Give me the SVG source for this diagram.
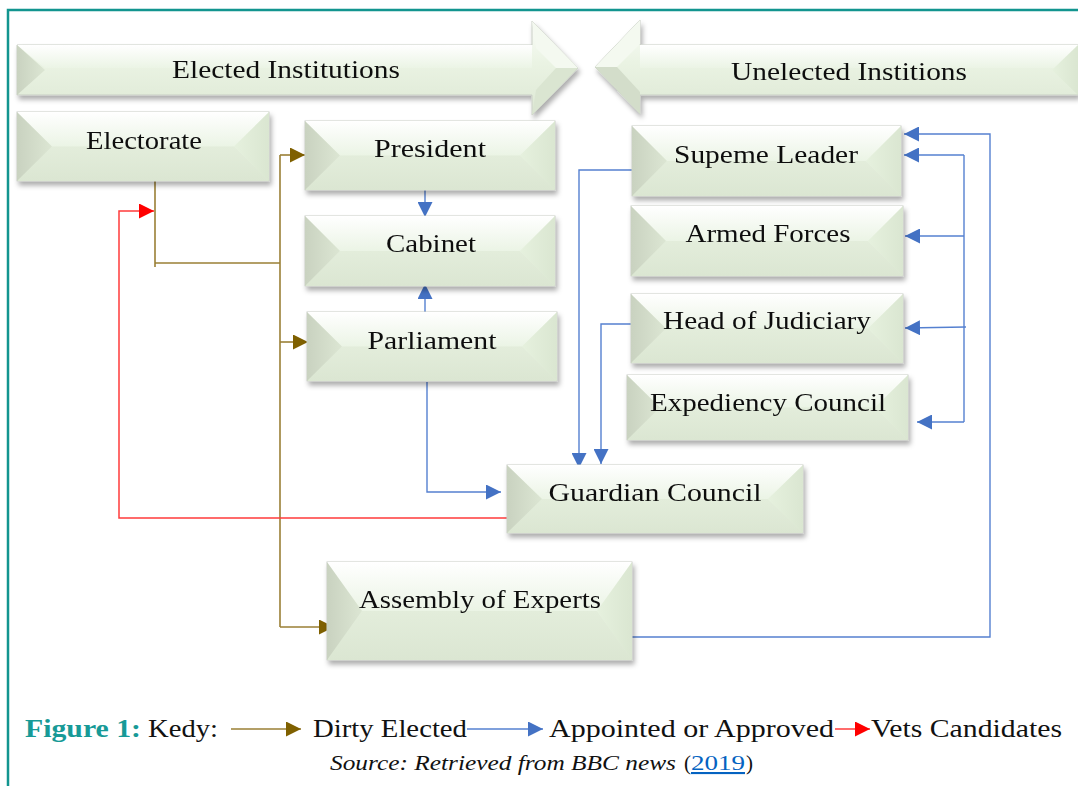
<svg xmlns="http://www.w3.org/2000/svg" width="1078" height="786" viewBox="0 0 1078 786">
  <style>
    .lbl { font-family: "Liberation Serif", "Times New Roman", serif; font-size: 26px; fill: #111; text-anchor: middle; }
    .leg { font-family: "Liberation Serif", "Times New Roman", serif; font-size: 25px; fill: #111; }
    .src { font-family: "Liberation Serif", "Times New Roman", serif; font-size: 21px; fill: #111; }
    .base { fill: url(#gBase); stroke: #c9cec5; stroke-width: 1; }
    .top { fill: url(#gTop); }
    .bot { fill: url(#gBot); }
    .lft { fill: url(#gLeft); }
    .rgt { fill: url(#gRight); }
    .blue { fill: none; stroke: #5580d0; stroke-width: 1.4; }
    .brown { fill: none; stroke: #9a7f35; stroke-width: 1.6; }
    .red { fill: none; stroke: #ff3b3b; stroke-width: 1.5; }
  </style>
  <defs>
    <linearGradient id="gBase" x1="0" y1="0" x2="0" y2="1">
      <stop offset="0" stop-color="#fbfdf9"/>
      <stop offset="0.45" stop-color="#eaf3e3"/>
      <stop offset="1" stop-color="#dde8d4"/>
    </linearGradient>
    <linearGradient id="gTop" x1="0" y1="0" x2="0" y2="1">
      <stop offset="0" stop-color="#ffffff"/>
      <stop offset="1" stop-color="#ebf4e5"/>
    </linearGradient>
    <linearGradient id="gBot" x1="0" y1="0" x2="0" y2="1">
      <stop offset="0" stop-color="#e3eddb"/>
      <stop offset="1" stop-color="#dbe6d2"/>
    </linearGradient>
    <linearGradient id="gLeft" x1="0" y1="0" x2="1" y2="0">
      <stop offset="0" stop-color="#c9d2c0"/>
      <stop offset="1" stop-color="#dce6d3"/>
    </linearGradient>
    <linearGradient id="gRight" x1="0" y1="0" x2="1" y2="0">
      <stop offset="0" stop-color="#e6f1de"/>
      <stop offset="1" stop-color="#dae6d1"/>
    </linearGradient>
    <filter id="shadow" x="-10%" y="-20%" width="125%" height="150%">
      <feDropShadow dx="2" dy="4" stdDeviation="2.8" flood-color="#000" flood-opacity="0.32"/>
    </filter>
    <marker id="aBlue" viewBox="0 0 10 10" refX="10" refY="5" markerWidth="15" markerHeight="15" markerUnits="userSpaceOnUse" orient="auto">
      <path d="M0,0 L10,5 L0,10 z" fill="#4472c4"/>
    </marker>
    <marker id="aBrown" viewBox="0 0 10 10" refX="10" refY="5" markerWidth="15" markerHeight="15" markerUnits="userSpaceOnUse" orient="auto">
      <path d="M0,0 L10,5 L0,10 z" fill="#7f6000"/>
    </marker>
    <marker id="aRed" viewBox="0 0 10 10" refX="10" refY="5" markerWidth="15" markerHeight="15" markerUnits="userSpaceOnUse" orient="auto">
      <path d="M0,0 L10,5 L0,10 z" fill="#ff0000"/>
    </marker>
  </defs>

  <rect width="1078" height="786" fill="#ffffff"/>

  <!-- frame -->
  <path d="M8,786 L8,10 L1078,10" fill="none" stroke="#12958f" stroke-width="2.5"/>

  <!-- section banners -->
  <g id="elected-banner" filter="url(#shadow)">
    <polygon class="base" points="17,45 532,45 532,21 578,68 532,115 532,95 17,95"/>
    <polygon class="top" points="17,45 532,45 532,68 45,68"/>
    <polygon class="lft" points="17,45 45,70 17,95"/>
    <polygon fill="#f4f9f0" points="532,21 578,68 556,68 536,48"/>
    <polygon fill="#dae5d1" points="532,115 578,68 556,68 536,90"/>
    <text class="lbl" x="286" y="78" textLength="228" lengthAdjust="spacingAndGlyphs">Elected Institutions</text>
  </g>
  <g id="unelected-banner" filter="url(#shadow)">
    <polygon class="base" points="595,67 640,20 640,45 1078,45 1078,95 640,95 640,114"/>
    <polygon class="top" points="640,45 1078,45 1078,68 640,68"/>
    <polygon fill="#f4f9f0" points="595,67 640,20 640,44 617,67"/>
    <polygon fill="#d3ddca" points="595,67 640,114 640,92 617,67"/>
    <polygon class="rgt" points="1078,45 1052,70 1078,95"/>
    <text class="lbl" x="849" y="80" textLength="236" lengthAdjust="spacingAndGlyphs">Unelected Institions</text>
  </g>

  <!-- connectors -->
  <g id="connectors">
    <!-- directly elected (brown) -->
    <path class="brown" d="M155,181 L155,267"/>
    <path class="brown" d="M155,263 L280,263"/>
    <path class="brown" d="M280,155 L280,627"/>
    <path class="brown" d="M280,155 L305,155" marker-end="url(#aBrown)"/>
    <path class="brown" d="M280,342 L308,342" marker-end="url(#aBrown)"/>
    <path class="brown" d="M280,627 L334,627" marker-end="url(#aBrown)"/>

    <!-- vets candidates (red) -->
    <path class="red" d="M509,518 L119,518 L119,211 L154,211" marker-end="url(#aRed)"/>

    <!-- appointed or approved (blue) -->
    <path class="blue" d="M425,190 L425,217" marker-end="url(#aBlue)"/>
    <path class="blue" d="M425,314 L425,284" marker-end="url(#aBlue)"/>
    <path class="blue" d="M427,382 L427,492 L501,492" marker-end="url(#aBlue)"/>
    <path class="blue" d="M633,170 L579,170 L579,468" marker-end="url(#aBlue)"/>
    <path class="blue" d="M632,324 L601,324 L601,464" marker-end="url(#aBlue)"/>
    <path class="blue" d="M964,155 L964,422"/>
    <path class="blue" d="M964,155 L904,155" marker-end="url(#aBlue)"/>
    <path class="blue" d="M964,236 L905,236" marker-end="url(#aBlue)"/>
    <path class="blue" d="M966,327 L905,328" marker-end="url(#aBlue)"/>
    <path class="blue" d="M964,422 L917,422" marker-end="url(#aBlue)"/>
    <path class="blue" d="M632,637 L990,637 L990,134 L904,134" marker-end="url(#aBlue)"/>
  </g>

  <!-- institutions -->
  <g id="electorate" filter="url(#shadow)">
    <rect class="base" x="17" y="112" width="252" height="69"/>
    <polygon class="top" points="17,112 269,112 234,146.5 52,146.5"/>
    <polygon class="bot" points="17,181 269,181 234,146.5 52,146.5"/>
    <polygon class="lft" points="17,112 52,146.5 17,181"/>
    <polygon class="rgt" points="269,112 234,146.5 269,181"/>
    <text class="lbl" x="144" y="149" textLength="116" lengthAdjust="spacingAndGlyphs">Electorate</text>
  </g>

  <g id="president" filter="url(#shadow)">
    <rect class="base" x="305" y="121" width="250" height="69"/>
    <polygon class="top" points="305,121 555,121 520,155.5 340,155.5"/>
    <polygon class="bot" points="305,190 555,190 520,155.5 340,155.5"/>
    <polygon class="lft" points="305,121 340,155.5 305,190"/>
    <polygon class="rgt" points="555,121 520,155.5 555,190"/>
    <text class="lbl" x="430" y="157" textLength="112" lengthAdjust="spacingAndGlyphs">President</text>
  </g>

  <g id="cabinet" filter="url(#shadow)">
    <rect class="base" x="305" y="216" width="250" height="70"/>
    <polygon class="top" points="305,216 555,216 520,251 340,251"/>
    <polygon class="bot" points="305,286 555,286 520,251 340,251"/>
    <polygon class="lft" points="305,216 340,251 305,286"/>
    <polygon class="rgt" points="555,216 520,251 555,286"/>
    <text class="lbl" x="431" y="252" textLength="90" lengthAdjust="spacingAndGlyphs">Cabinet</text>
  </g>

  <g id="parliament" filter="url(#shadow)">
    <rect class="base" x="307" y="312" width="250" height="69"/>
    <polygon class="top" points="307,312 557,312 522,346.5 342,346.5"/>
    <polygon class="bot" points="307,381 557,381 522,346.5 342,346.5"/>
    <polygon class="lft" points="307,312 342,346.5 307,381"/>
    <polygon class="rgt" points="557,312 522,346.5 557,381"/>
    <text class="lbl" x="432" y="349" textLength="129" lengthAdjust="spacingAndGlyphs">Parliament</text>
  </g>

  <g id="supreme-leader" filter="url(#shadow)">
    <rect class="base" x="632" y="126" width="269" height="70"/>
    <polygon class="top" points="632,126 901,126 866,161 667,161"/>
    <polygon class="bot" points="632,196 901,196 866,161 667,161"/>
    <polygon class="lft" points="632,126 667,161 632,196"/>
    <polygon class="rgt" points="901,126 866,161 901,196"/>
    <text class="lbl" x="766" y="163" textLength="184" lengthAdjust="spacingAndGlyphs">Supeme Leader</text>
  </g>

  <g id="armed-forces" filter="url(#shadow)">
    <rect class="base" x="631" y="206" width="272" height="70"/>
    <polygon class="top" points="631,206 903,206 868,241 666,241"/>
    <polygon class="bot" points="631,276 903,276 868,241 666,241"/>
    <polygon class="lft" points="631,206 666,241 631,276"/>
    <polygon class="rgt" points="903,206 868,241 903,276"/>
    <text class="lbl" x="768" y="242" textLength="165" lengthAdjust="spacingAndGlyphs">Armed Forces</text>
  </g>

  <g id="head-of-judiciary" filter="url(#shadow)">
    <rect class="base" x="631" y="294" width="272" height="69"/>
    <polygon class="top" points="631,294 903,294 868,328.5 666,328.5"/>
    <polygon class="bot" points="631,363 903,363 868,328.5 666,328.5"/>
    <polygon class="lft" points="631,294 666,328.5 631,363"/>
    <polygon class="rgt" points="903,294 868,328.5 903,363"/>
    <text class="lbl" x="767" y="329" textLength="208" lengthAdjust="spacingAndGlyphs">Head of Judiciary</text>
  </g>

  <g id="expediency-council" filter="url(#shadow)">
    <rect class="base" x="627" y="375" width="281" height="65"/>
    <polygon class="top" points="627,375 908,375 875,407.5 660,407.5"/>
    <polygon class="bot" points="627,440 908,440 875,407.5 660,407.5"/>
    <polygon class="lft" points="627,375 660,407.5 627,440"/>
    <polygon class="rgt" points="908,375 875,407.5 908,440"/>
    <text class="lbl" x="768" y="411" textLength="236" lengthAdjust="spacingAndGlyphs">Expediency Council</text>
  </g>

  <g id="guardian-council" filter="url(#shadow)">
    <rect class="base" x="507" y="465" width="296" height="68"/>
    <polygon class="top" points="507,465 803,465 768,499 542,499"/>
    <polygon class="bot" points="507,533 803,533 768,499 542,499"/>
    <polygon class="lft" points="507,465 542,499 507,533"/>
    <polygon class="rgt" points="803,465 768,499 803,533"/>
    <text class="lbl" x="655" y="501" textLength="213" lengthAdjust="spacingAndGlyphs">Guardian Council</text>
  </g>

  <g id="assembly-of-experts" filter="url(#shadow)">
    <rect class="base" x="327" y="562" width="305" height="98"/>
    <polygon class="top" points="327,562 632,562 597,611 362,611"/>
    <polygon class="bot" points="327,660 632,660 597,611 362,611"/>
    <polygon class="lft" points="327,562 362,611 327,660"/>
    <polygon class="rgt" points="632,562 597,611 632,660"/>
    <text class="lbl" x="480" y="608" textLength="242" lengthAdjust="spacingAndGlyphs">Assembly of Experts</text>
  </g>

  <!-- key -->
  <g id="legend">
    <text class="leg" x="25" y="737" textLength="116" lengthAdjust="spacingAndGlyphs" font-weight="bold" style="fill:#179a97">Figure 1:</text>
    <text class="leg" x="148" y="737" textLength="70" lengthAdjust="spacingAndGlyphs">Kedy:</text>
    <path class="brown" d="M231,729 L301,729" marker-end="url(#aBrown)"/>
    <text class="leg" x="313" y="737" textLength="154" lengthAdjust="spacingAndGlyphs">Dirty Elected</text>
    <path class="blue" d="M467,729 L543,729" marker-end="url(#aBlue)"/>
    <text class="leg" x="549" y="737" textLength="285" lengthAdjust="spacingAndGlyphs">Appointed or Approved</text>
    <path class="red" d="M835,729 L870,729" marker-end="url(#aRed)"/>
    <text class="leg" x="871" y="737" textLength="191" lengthAdjust="spacingAndGlyphs">Vets Candidates</text>
    <text class="src" x="330" y="770" font-style="italic" textLength="346" lengthAdjust="spacingAndGlyphs">Source: Retrieved from BBC news</text>
    <text class="src" x="684" y="770">(</text>
    <text class="src" x="691" y="770" textLength="54" lengthAdjust="spacingAndGlyphs" text-decoration="underline" style="fill:#0563c1">2019</text>
    <text class="src" x="746" y="770">)</text>
  </g>
</svg>
